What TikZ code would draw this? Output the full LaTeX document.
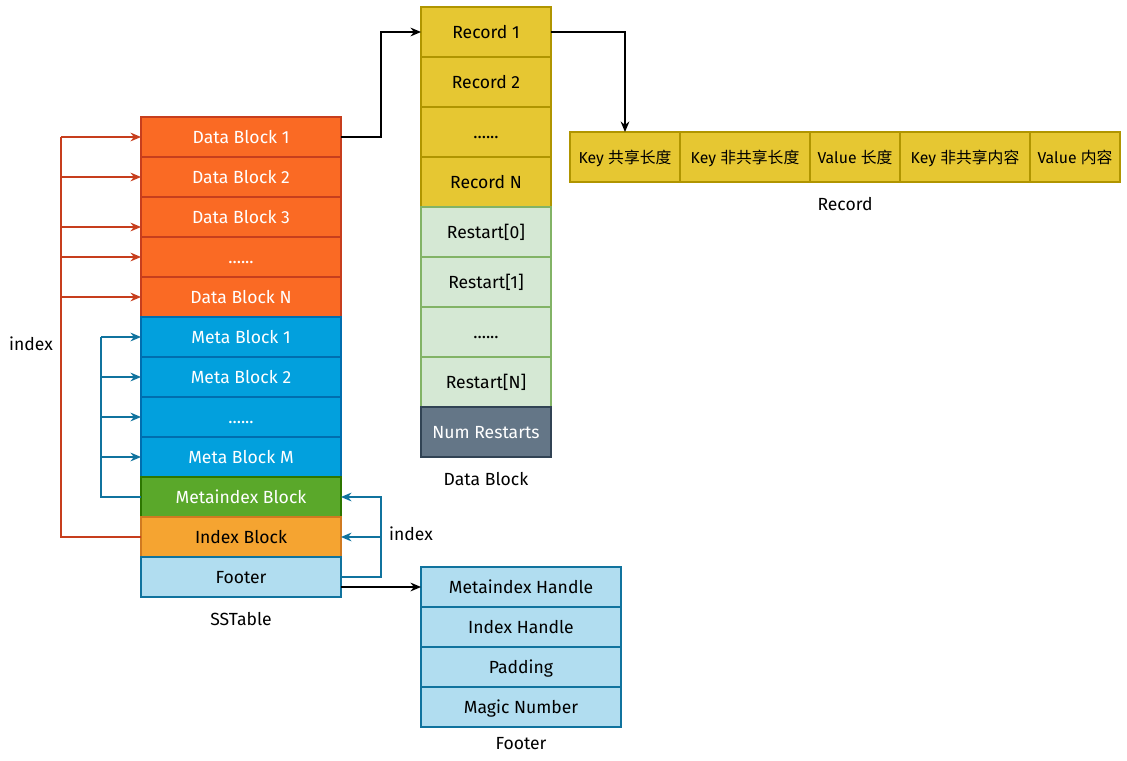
\documentclass[tikz,border=0pt]{standalone}
\usepackage{fontspec}
\setmainfont{Fira Sans}
\newfontfamily\cjk{Noto Sans CJK SC}
\usetikzlibrary{arrows.meta}

\definecolor{dbfill}{HTML}{FA6A24}
\definecolor{dbline}{HTML}{C73E1D}
\definecolor{mbfill}{HTML}{02A0DD}
\definecolor{mbline}{HTML}{006EAF}
\definecolor{mifill}{HTML}{5AA82A}
\definecolor{miline}{HTML}{2D7600}
\definecolor{ibfill}{HTML}{F5A431}
\definecolor{ibline}{HTML}{D07A20}
\definecolor{ftfill}{HTML}{B1DDF0}
\definecolor{ftline}{HTML}{10739E}
\definecolor{rcfill}{HTML}{E6C732}
\definecolor{rcline}{HTML}{B09500}
\definecolor{rsfill}{HTML}{D5E8D4}
\definecolor{rsline}{HTML}{82B366}
\definecolor{nrfill}{HTML}{647687}
\definecolor{nrline}{HTML}{314354}

\newcommand{\sixdots}{......}

\tikzset{
  cell/.style={draw, line width=0.75pt, inner sep=0pt, outer sep=0pt, text height=1.6ex, text depth=0.3ex, font=\fontsize{10}{12}\selectfont},
  sst/.style={cell, minimum width=4cm, minimum height=0.8cm},
  datablk/.style={sst, fill=dbfill, draw=dbline, text=white},
  metablk/.style={sst, fill=mbfill, draw=mbline, text=white},
  metaidx/.style={sst, fill=mifill, draw=miline, text=white},
  idxblk/.style={sst, fill=ibfill, draw=ibline},
  footblk/.style={sst, fill=ftfill, draw=ftline},
  dbrow/.style={cell, minimum width=2.6cm, minimum height=1cm},
  recrow/.style={dbrow, fill=rcfill, draw=rcline},
  rstrow/.style={dbrow, fill=rsfill, draw=rsline},
  numrow/.style={dbrow, fill=nrfill, draw=nrline, text=white},
  fieldcell/.style={cell, fill=rcfill, draw=rcline, minimum height=1cm, font=\fontsize{9}{11}\selectfont},
  capt/.style={font=\fontsize{10}{12}\selectfont},
  blackarrow/.style={line width=0.75pt, -{Stealth[length=6pt,width=5pt]}},
  redarrow/.style={line width=0.75pt, draw=dbline, -{Stealth[length=6pt,width=5pt]}},
  bluearrow/.style={line width=0.75pt, draw=ftline, -{Stealth[length=6pt,width=5pt]}},
}

\begin{document}
\begin{tikzpicture}[x=0.02cm, y=-0.02cm]
\useasboundingbox (0,0) rectangle (1127,761);

% SSTable
\foreach \nm/\txt/\sty [count=\i from 0] in {
  db1/Data Block 1/datablk, db2/Data Block 2/datablk, db3/Data Block 3/datablk,
  dbd/\sixdots/datablk, dbn/Data Block N/datablk,
  mb1/Meta Block 1/metablk, mb2/Meta Block 2/metablk, mbd/\sixdots/metablk,
  mbm/Meta Block M/metablk, mib/Metaindex Block/metaidx,
  ib/Index Block/idxblk, ft/Footer/footblk} {
  \node[\sty] (\nm) at (241,137+40*\i) {\txt};
}
\node[capt] (sstcap) at (241,619) {SSTable};

% Data Block
\foreach \nm/\txt/\sty [count=\i from 0] in {
  r1/Record 1/recrow, r2/Record 2/recrow, rd/\sixdots/recrow, rn/Record N/recrow,
  rs0/Restart[0]/rstrow, rs1/Restart[1]/rstrow, rsd/\sixdots/rstrow,
  rsn/Restart[N]/rstrow, nr/Num Restarts/numrow} {
  \node[\sty] (\nm) at (486,32+50*\i) {\txt};
}
\node[capt] (dbcap) at (486,479) {Data Block};

% Record
\node[fieldcell, minimum width=2.2cm] (k1) at (625,157) {Key {\cjk 共享长度}};
\node[fieldcell, minimum width=2.6cm] (k2) at (745,157) {Key {\cjk 非共享长度}};
\node[fieldcell, minimum width=1.8cm] (k3) at (855,157) {Value {\cjk 长度}};
\node[fieldcell, minimum width=2.6cm] (k4) at (965,157) {Key {\cjk 非共享内容}};
\node[fieldcell, minimum width=1.8cm] (k5) at (1075,157) {Value {\cjk 内容}};
\node[capt] (reccap) at (845,204) {Record};

% Footer
\foreach \nm/\txt [count=\i from 0] in {
  fh1/Metaindex Handle, fh2/Index Handle, fh3/Padding, fh4/Magic Number} {
  \node[footblk] (\nm) at (521,587+40*\i) {\txt};
}
\node[capt] (ftcap) at (521,744) {Footer};

% index arrows
\coordinate (redbus) at (61,0);
\coordinate (bluebus) at (101,0);
\coordinate (rightbus) at (381,537);
\draw[line width=0.75pt, dbline] (ib.west) -| (redbus |- db1.west);
\foreach \nm in {db1,db2,dbd,dbn}
  \draw[redarrow] (redbus |- \nm.west) -- (\nm.west);
\draw[redarrow] (redbus |- 0,227) -- (db3.west |- 0,227);
\draw[line width=0.75pt, ftline] (mib.west) -| (bluebus |- mb1.west);
\foreach \nm in {mb1,mb2,mbd,mbm}
  \draw[bluearrow] (bluebus |- \nm.west) -- (\nm.west);
\draw[bluearrow] (ft.east) -| (rightbus) |- (mib.east);
\draw[bluearrow] (rightbus) -- (ib.east);
\node[capt] (idxl) at (31,344) {index};
\node[capt] (idxr) at (411,534) {index};

% links
\draw[blackarrow] (db1.east) -- (381,137) |- (r1.west);
\draw[blackarrow] (r1.east) -| (k1.north);
\draw[blackarrow] (ft.east |- fh1.west) -- (fh1.west);
\end{tikzpicture}
\end{document}
